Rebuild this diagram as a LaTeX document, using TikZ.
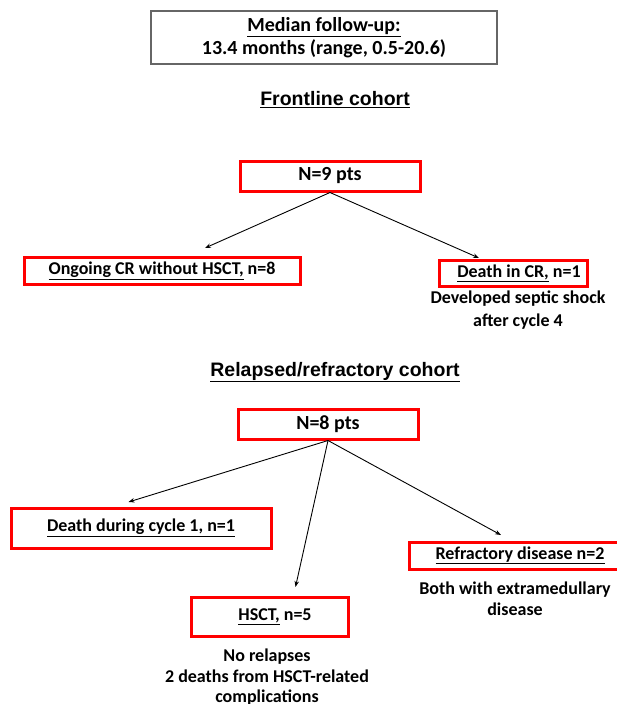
\documentclass[tikz,border=0pt]{standalone}
\usepackage{fontspec}
\setmainfont{Carlito}
\newfontfamily\headfont{Liberation Sans}
\usetikzlibrary{arrows.meta,positioning}

\tikzset{
  outbox/.style={draw=red, line width=3pt, inner sep=0pt, font=\fontsize{18}{21}\selectfont\bfseries},
  countbox/.style={outbox, minimum width=180pt, minimum height=30pt, font=\fontsize{20}{22}\selectfont\bfseries},
  note/.style={align=center, inner sep=0pt, font=\fontsize{18}{22}\selectfont\bfseries},
  heading/.style={inner sep=0pt, font=\fontsize{19.5}{22}\headfont\bfseries},
  flow/.style={-{Stealth[length=6pt,width=4.5pt]}, line width=0.9pt},
}

\begin{document}
\begin{tikzpicture}[x=1pt, y=-1pt]
  \useasboundingbox (0,0) rectangle (616,704);

  % follow-up summary
  \node[draw=black!60, line width=1.3pt, minimum width=346pt, minimum height=53pt,
        align=center, inner sep=0pt, font=\fontsize{20}{23}\selectfont\bfseries]
        (fu) at (324,37.5) {\underline{Median follow-up:}\\13.4 months (range, 0.5-20.6)\rule[-3pt]{0pt}{3pt}};

  % frontline
  \node[heading] (front) at (335,100) {\underline{Frontline cohort}};
  \node[countbox] (n9) at (330,176) {N=9 pts};
  \node[outbox, minimum width=276pt, minimum height=27pt] (cr) at (162,270.5)
        {\underline{Ongoing CR without HSCT,} n=8};
  \node[outbox, minimum width=148pt, minimum height=26pt] (dcr) at (513,273)
        {\hspace{12pt}\underline{Death in CR,} n=1};
  \node[note, anchor=north, font=\fontsize{18}{23}\selectfont\bfseries]
        (septic) at (518,291) {Developed septic shock\\after cycle 4};

  \coordinate (crtip) at (205,248);
  \coordinate (dcrtip) at (479,258);
  \draw[flow] (n9.south) -- (crtip);
  \draw[flow] (n9.south) -- (dcrtip);

  % relapsed/refractory
  \node[heading] (rr) at (335,372) {\underline{Relapsed/refractory cohort}};
  \node[countbox] (n8) at (328,424) {N=8 pts};
  \node[outbox, minimum width=260pt, minimum height=40pt] (dc1) at (141,528)
        {\underline{Death during cycle 1, n=1}};
  \node[outbox, minimum width=157pt, minimum height=39pt] (hsct) at (270,616.5)
        {\hspace{10pt}\underline{HSCT,} n=5};
  \node[outbox, minimum width=210pt, minimum height=27pt] (refr) at (514,555.5)
        {\hspace{12pt}\underline{Refractory disease n=2}};
  \node[note, anchor=north, font=\fontsize{18}{21}\selectfont\bfseries]
        (extra) at (515,582) {Both with extramedullary\\disease};
  \node[note, anchor=north, font=\fontsize{18}{20.5}\selectfont\bfseries]
        (relapse) at (267,649) {No relapses\\2 deaths from HSCT-related\\complications};

  \coordinate (dc1tip) at (128.5,502);
  \coordinate (hscttip) at (295.5,587);
  \coordinate (refrtip) at (501,535);
  \draw[flow] (n8.south) -- (dc1tip);
  \draw[flow] (n8.south) -- (hscttip);
  \draw[flow] (n8.south) -- (refrtip);
\end{tikzpicture}
\end{document}
